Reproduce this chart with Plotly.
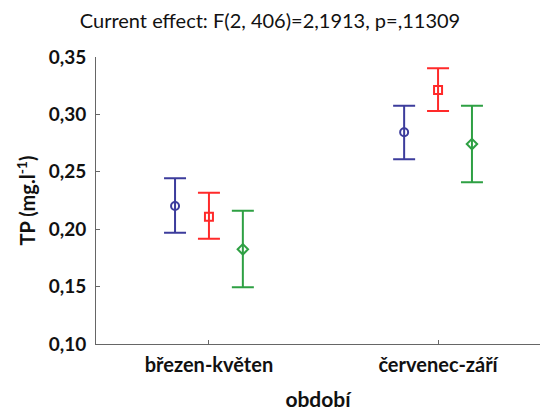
import plotly.graph_objects as go

# Season groups and the three series (mean with lower/upper confidence limits)
periods = ["březen-květen", "červenec-září"]
series_names = ["1", "2", "3"]
means = [
    [0.2202, 0.2844],
    [0.2109, 0.3213],
    [0.1825, 0.2742],
]
lower = [
    [0.1970, 0.2609],
    [0.1917, 0.3030],
    [0.1494, 0.2409],
]
upper = [
    [0.2443, 0.3076],
    [0.2318, 0.3402],
    [0.2161, 0.3076],
]
y_ticks = [0.10, 0.15, 0.20, 0.25, 0.30, 0.35]
y_tick_text = ["0,10", "0,15", "0,20", "0,25", "0,30", "0,35"]

colors = ["#3c3c9c", "#ff2a2a", "#2ea043"]
symbols = ["circle-open", "square-open", "diamond-open"]
offsets = [-0.148, 0.0, 0.148]

fig = go.Figure()
for i in range(3):
    xs = [k + offsets[i] for k in range(len(periods))]
    fig.add_trace(go.Scatter(
        x=xs,
        y=means[i],
        mode="markers",
        name=series_names[i],
        marker=dict(symbol=symbols[i], color=colors[i], size=8,
                    line=dict(width=2, color=colors[i])),
        error_y=dict(
            type="data",
            symmetric=False,
            array=[u - m for u, m in zip(upper[i], means[i])],
            arrayminus=[m - l for m, l in zip(means[i], lower[i])],
            color=colors[i],
            thickness=2,
            width=11,
        ),
        showlegend=False,
    ))

font_family = "Lato, 'Open Sans', sans-serif"

fig.update_layout(
    width=540,
    height=411,
    margin=dict(l=96, r=0, t=57, b=67),
    paper_bgcolor="white",
    plot_bgcolor="white",
    font=dict(family=font_family, color="#111111"),
    title=dict(
        text="Current effect: F(2, 406)=2,1913, p=,11309",
        x=0.5, xanchor="center", y=0.949, yanchor="middle",
        font=dict(size=20, family=font_family, color="#111111"),
    ),
)

fig.update_xaxes(
    range=[-0.493, 1.445],
    tickmode="array",
    tickvals=list(range(len(periods))),
    ticktext=periods,
    ticks="inside",
    ticklen=4,
    tickcolor="#666666",
    showline=True,
    linecolor="#666666",
    linewidth=1,
    showgrid=False,
    zeroline=False,
    automargin=False,
    tickfont=dict(size=20, family=font_family, weight="bold"),
    ticklabelstandoff=3,
    title=dict(text="období", font=dict(size=21, family=font_family, weight="bold"),
               standoff=19),
)

fig.update_yaxes(
    range=[0.10, 0.35],
    tickmode="array",
    tickvals=y_ticks,
    ticktext=y_tick_text,
    ticks="inside",
    ticklen=4,
    tickcolor="#666666",
    showline=True,
    linecolor="#666666",
    linewidth=1,
    showgrid=False,
    zeroline=False,
    automargin=False,
    tickfont=dict(size=19, family=font_family, weight="bold"),
    ticklabelstandoff=5,
    title=dict(text="TP (mg.l<sup>-1</sup>)", font=dict(size=20, family=font_family, weight="bold"),
               standoff=7),
)

fig.write_html("out.html")
